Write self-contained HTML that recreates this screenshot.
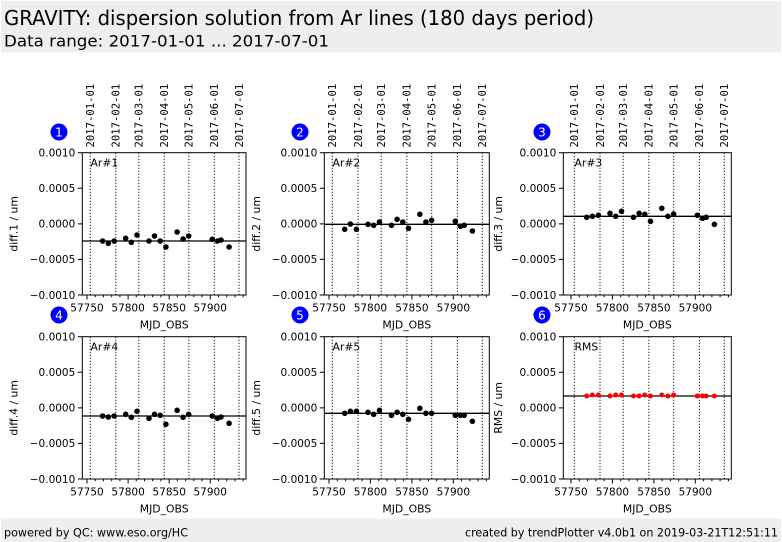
<!DOCTYPE html>
<html><head><meta charset="utf-8"><style>
html,body{margin:0;padding:0;background:#fff;}
svg{display:block;}
text{font-family:"DejaVu Sans","Liberation Sans",sans-serif;fill:#000;}
.mono{font-family:"DejaVu Sans Mono","Liberation Mono",monospace;}
.tk{font-size:10.5px;}
.lb{font-size:10.8px;}
</style></head><body>
<svg width="782" height="542" viewBox="0 0 782 542" xmlns="http://www.w3.org/2000/svg">
<rect x="0" y="0" width="782" height="542" fill="#fff"/>
<!-- header -->
<rect x="1" y="1" width="780" height="51.5" fill="#eeeeee"/>
<text x="4" y="25" font-size="20" textLength="590" lengthAdjust="spacingAndGlyphs">GRAVITY: dispersion solution from Ar lines (180 days period)</text>
<text x="4" y="46.5" font-size="16" textLength="325" lengthAdjust="spacingAndGlyphs">Data range: 2017-01-01 ... 2017-07-01</text>
<!-- footer -->
<rect x="1" y="518.5" width="780" height="23.5" fill="#eeeeee"/>
<text x="4" y="536.5" font-size="11.5" textLength="184" lengthAdjust="spacingAndGlyphs">powered by QC: www.eso.org/HC</text>
<text x="465" y="536.5" font-size="11.5" textLength="313" lengthAdjust="spacingAndGlyphs">created by trendPlotter v4.0b1 on 2019-03-21T12:51:11</text>

<!-- circled numbers -->
<g>
<circle cx="59" cy="132" r="8.5" fill="#0000ff"/><text x="59" y="136.3" font-size="12" text-anchor="middle" style="fill:#fff">1</text>
<circle cx="300" cy="132" r="8.5" fill="#0000ff"/><text x="300" y="136.3" font-size="12" text-anchor="middle" style="fill:#fff">2</text>
<circle cx="542" cy="132" r="8.5" fill="#0000ff"/><text x="542" y="136.3" font-size="12" text-anchor="middle" style="fill:#fff">3</text>
<circle cx="59" cy="315" r="8.5" fill="#0000ff"/><text x="59" y="319.3" font-size="12" text-anchor="middle" style="fill:#fff">4</text>
<circle cx="300" cy="315" r="8.5" fill="#0000ff"/><text x="300" y="319.3" font-size="12" text-anchor="middle" style="fill:#fff">5</text>
<circle cx="542" cy="315" r="8.5" fill="#0000ff"/><text x="542" y="319.3" font-size="12" text-anchor="middle" style="fill:#fff">6</text>
</g>

<!-- date labels (rotated) -->
<g class="mono" font-size="10.6">
<text class="mono" transform="translate(94.1,147.5) rotate(-90)">2017-01-01</text>
<text class="mono" transform="translate(119.6,147.5) rotate(-90)">2017-02-01</text>
<text class="mono" transform="translate(142.6,147.5) rotate(-90)">2017-03-01</text>
<text class="mono" transform="translate(168.0,147.5) rotate(-90)">2017-04-01</text>
<text class="mono" transform="translate(192.7,147.5) rotate(-90)">2017-05-01</text>
<text class="mono" transform="translate(218.1,147.5) rotate(-90)">2017-06-01</text>
<text class="mono" transform="translate(242.8,147.5) rotate(-90)">2017-07-01</text>

<text class="mono" transform="translate(336.1,147.5) rotate(-90)">2017-01-01</text>
<text class="mono" transform="translate(361.8,147.5) rotate(-90)">2017-02-01</text>
<text class="mono" transform="translate(385.0,147.5) rotate(-90)">2017-03-01</text>
<text class="mono" transform="translate(410.7,147.5) rotate(-90)">2017-04-01</text>
<text class="mono" transform="translate(435.5,147.5) rotate(-90)">2017-05-01</text>
<text class="mono" transform="translate(461.2,147.5) rotate(-90)">2017-06-01</text>
<text class="mono" transform="translate(486.1,147.5) rotate(-90)">2017-07-01</text>

<text class="mono" transform="translate(578.1,147.5) rotate(-90)">2017-01-01</text>
<text class="mono" transform="translate(603.8,147.5) rotate(-90)">2017-02-01</text>
<text class="mono" transform="translate(627.0,147.5) rotate(-90)">2017-03-01</text>
<text class="mono" transform="translate(652.7,147.5) rotate(-90)">2017-04-01</text>
<text class="mono" transform="translate(677.5,147.5) rotate(-90)">2017-05-01</text>
<text class="mono" transform="translate(703.2,147.5) rotate(-90)">2017-06-01</text>
<text class="mono" transform="translate(728.1,147.5) rotate(-90)">2017-07-01</text>
</g>

<!-- ===== dotted month lines ===== -->
<g stroke="#000" stroke-width="1" stroke-dasharray="1.2,1.8" fill="none">
<path d="M90.3 152.7V295M115.8 152.7V295M138.8 152.7V295M164.2 152.7V295M188.9 152.7V295M214.3 152.7V295M239 152.7V295"/>
<path d="M332.3 152.7V295M358 152.7V295M381.2 152.7V295M406.9 152.7V295M431.7 152.7V295M457.4 152.7V295M482.3 152.7V295"/>
<path d="M574.3 152.7V295M600 152.7V295M623.2 152.7V295M648.9 152.7V295M673.7 152.7V295M699.4 152.7V295M724.3 152.7V295"/>
<path d="M90.3 336.7V479M115.8 336.7V479M138.8 336.7V479M164.2 336.7V479M188.9 336.7V479M214.3 336.7V479M239 336.7V479"/>
<path d="M332.3 336.7V479M358 336.7V479M381.2 336.7V479M406.9 336.7V479M431.7 336.7V479M457.4 336.7V479M482.3 336.7V479"/>
<path d="M574.3 336.7V479M600 336.7V479M623.2 336.7V479M648.9 336.7V479M673.7 336.7V479M699.4 336.7V479M724.3 336.7V479"/>
</g>

<!-- ===== horizontal mean lines ===== -->
<g stroke="#000" stroke-width="1.3">
<line x1="82.3" x2="246" y1="241" y2="241"/>
<line x1="324.3" x2="489.3" y1="224.3" y2="224.3"/>
<line x1="563.3" x2="731.3" y1="216.3" y2="216.3"/>
<line x1="82.3" x2="246" y1="416" y2="416"/>
<line x1="324.3" x2="489.3" y1="413.3" y2="413.3"/>
<line x1="563.3" x2="731.3" y1="396" y2="396"/>
</g>

<!-- ===== data points ===== -->
<g fill="#000">
<!-- P1 -->
<circle cx="102.6" cy="241" r="2.8"/><circle cx="108.3" cy="243.3" r="2.8"/><circle cx="114.2" cy="241" r="2.8"/><circle cx="125.7" cy="238.3" r="2.8"/><circle cx="131.3" cy="242.3" r="2.8"/><circle cx="137" cy="235" r="2.8"/><circle cx="149" cy="241" r="2.8"/><circle cx="154.5" cy="236" r="2.8"/><circle cx="160.2" cy="241" r="2.8"/><circle cx="165.9" cy="247" r="2.8"/><circle cx="177.1" cy="232" r="2.8"/><circle cx="183.1" cy="239" r="2.8"/><circle cx="188.7" cy="236" r="2.8"/><circle cx="212.2" cy="239.3" r="2.8"/><circle cx="217.4" cy="241" r="2.8"/><circle cx="221" cy="240" r="2.8"/><circle cx="229.1" cy="247" r="2.8"/>
<!-- P2 -->
<circle cx="344.7" cy="229.3" r="2.8"/><circle cx="350.4" cy="224" r="2.8"/><circle cx="356.4" cy="229.3" r="2.8"/><circle cx="368" cy="224.3" r="2.8"/><circle cx="373.7" cy="225.3" r="2.8"/><circle cx="379.5" cy="222" r="2.8"/><circle cx="391.5" cy="225.3" r="2.8"/><circle cx="397.1" cy="219.3" r="2.8"/><circle cx="402.8" cy="222" r="2.8"/><circle cx="408.5" cy="228.3" r="2.8"/><circle cx="419.8" cy="214.3" r="2.8"/><circle cx="425.9" cy="222" r="2.8"/><circle cx="431.6" cy="220.3" r="2.8"/><circle cx="455.3" cy="221.3" r="2.8"/><circle cx="460.5" cy="226.3" r="2.8"/><circle cx="464.2" cy="225.3" r="2.8"/><circle cx="472.4" cy="231" r="2.8"/>
<!-- P3 -->
<circle cx="586.7" cy="217.3" r="2.8"/><circle cx="592.4" cy="216.3" r="2.8"/><circle cx="598.4" cy="215.3" r="2.8"/><circle cx="610" cy="213.3" r="2.8"/><circle cx="615.7" cy="216.3" r="2.8"/><circle cx="621.5" cy="211.3" r="2.8"/><circle cx="633.5" cy="217.3" r="2.8"/><circle cx="639.1" cy="213.3" r="2.8"/><circle cx="644.8" cy="214.3" r="2.8"/><circle cx="650.5" cy="221.3" r="2.8"/><circle cx="661.8" cy="208.3" r="2.8"/><circle cx="667.9" cy="216.3" r="2.8"/><circle cx="673.6" cy="214" r="2.8"/><circle cx="697.3" cy="215.3" r="2.8"/><circle cx="702.5" cy="218.3" r="2.8"/><circle cx="706.2" cy="217.3" r="2.8"/><circle cx="714.4" cy="224.3" r="2.8"/>
<!-- P4 -->
<circle cx="102.6" cy="416" r="2.8"/><circle cx="108.3" cy="417" r="2.8"/><circle cx="114.2" cy="416" r="2.8"/><circle cx="125.7" cy="414.3" r="2.8"/><circle cx="131.3" cy="417.3" r="2.8"/><circle cx="137" cy="411.3" r="2.8"/><circle cx="149" cy="418.3" r="2.8"/><circle cx="154.5" cy="414.3" r="2.8"/><circle cx="160.2" cy="415.3" r="2.8"/><circle cx="165.9" cy="424.3" r="2.8"/><circle cx="177.1" cy="410.3" r="2.8"/><circle cx="183.1" cy="417.3" r="2.8"/><circle cx="188.7" cy="414.3" r="2.8"/><circle cx="212.2" cy="416" r="2.8"/><circle cx="217.4" cy="418.3" r="2.8"/><circle cx="221" cy="417" r="2.8"/><circle cx="229.1" cy="423.3" r="2.8"/>
<!-- P5 -->
<circle cx="344.7" cy="413.3" r="2.8"/><circle cx="350.4" cy="411.3" r="2.8"/><circle cx="356.4" cy="411.3" r="2.8"/><circle cx="368" cy="412.3" r="2.8"/><circle cx="373.7" cy="414.3" r="2.8"/><circle cx="379.5" cy="410.3" r="2.8"/><circle cx="391.5" cy="415.3" r="2.8"/><circle cx="397.1" cy="412.3" r="2.8"/><circle cx="402.8" cy="414.3" r="2.8"/><circle cx="408.5" cy="419.3" r="2.8"/><circle cx="419.8" cy="408.3" r="2.8"/><circle cx="425.9" cy="413.3" r="2.8"/><circle cx="431.6" cy="413.3" r="2.8"/><circle cx="455.3" cy="415.3" r="2.8"/><circle cx="460.5" cy="415.3" r="2.8"/><circle cx="464.2" cy="415.3" r="2.8"/><circle cx="472.4" cy="421.3" r="2.8"/>
</g>
<g fill="#ff0000">
<!-- P6 -->
<circle cx="586.7" cy="396" r="2.5"/><circle cx="592.4" cy="395" r="2.5"/><circle cx="598.4" cy="395" r="2.5"/><circle cx="610" cy="396" r="2.5"/><circle cx="615.7" cy="395" r="2.5"/><circle cx="621.5" cy="395" r="2.5"/><circle cx="633.5" cy="396" r="2.5"/><circle cx="639.1" cy="396" r="2.5"/><circle cx="644.8" cy="395" r="2.5"/><circle cx="650.5" cy="396" r="2.5"/><circle cx="661.8" cy="395" r="2.5"/><circle cx="667.9" cy="396" r="2.5"/><circle cx="673.6" cy="395" r="2.5"/><circle cx="697.3" cy="396" r="2.5"/><circle cx="702.5" cy="396" r="2.5"/><circle cx="706.2" cy="396" r="2.5"/><circle cx="714.4" cy="396" r="2.5"/>
</g>

<!-- ===== axes frames ===== -->
<g fill="none" stroke="#000" stroke-width="1">
<rect x="82.3" y="152.7" width="163.7" height="142.3"/>
<rect x="324.3" y="152.7" width="165" height="142.3"/>
<rect x="563.3" y="152.7" width="168" height="142.3"/>
<rect x="82.3" y="336.7" width="163.7" height="142.3"/>
<rect x="324.3" y="336.7" width="165" height="142.3"/>
<rect x="563.3" y="336.7" width="168" height="142.3"/>
</g>

<!-- ===== y ticks ===== -->
<g stroke="#000" stroke-width="1">
<path d="M77.8 152.7H82.3M77.8 188.3H82.3M77.8 223.85H82.3M77.8 259.4H82.3M77.8 295H82.3"/>
<path d="M319.8 152.7H324.3M319.8 188.3H324.3M319.8 223.85H324.3M319.8 259.4H324.3M319.8 295H324.3"/>
<path d="M558.8 152.7H563.3M558.8 188.3H563.3M558.8 223.85H563.3M558.8 259.4H563.3M558.8 295H563.3"/>
<path d="M77.8 336.7H82.3M77.8 372.3H82.3M77.8 407.85H82.3M77.8 443.4H82.3M77.8 479H82.3"/>
<path d="M319.8 336.7H324.3M319.8 372.3H324.3M319.8 407.85H324.3M319.8 443.4H324.3M319.8 479H324.3"/>
<path d="M558.8 336.7H563.3M558.8 372.3H563.3M558.8 407.85H563.3M558.8 443.4H563.3M558.8 479H563.3"/>
</g>

<!-- ===== x ticks ===== -->
<g stroke="#000" stroke-width="1">
<!-- major top -->
<path d="M87 295V299.5M128.1 295V299.5M169.2 295V299.5M210.2 295V299.5"/>
<path d="M329 295V299.5M370.4 295V299.5M411.9 295V299.5M453.3 295V299.5"/>
<path d="M571 295V299.5M612.4 295V299.5M653.9 295V299.5M695.3 295V299.5"/>
<!-- major bottom -->
<path d="M87 479V483.5M128.1 479V483.5M169.2 479V483.5M210.2 479V483.5"/>
<path d="M329 479V483.5M370.4 479V483.5M411.9 479V483.5M453.3 479V483.5"/>
<path d="M571 479V483.5M612.4 479V483.5M653.9 479V483.5M695.3 479V483.5"/>
<!-- minor top -->
<path d="M95.2 295v2.3M103.4 295v2.3M111.7 295v2.3M119.9 295v2.3M136.3 295v2.3M144.5 295v2.3M152.7 295v2.3M160.9 295v2.3M177.4 295v2.3M185.6 295v2.3M193.8 295v2.3M202 295v2.3M218.5 295v2.3M226.7 295v2.3M234.9 295v2.3M243.1 295v2.3"/>
<path d="M337.3 295v2.3M345.6 295v2.3M353.8 295v2.3M362.1 295v2.3M378.7 295v2.3M387 295v2.3M395.3 295v2.3M403.6 295v2.3M420.1 295v2.3M428.4 295v2.3M436.7 295v2.3M445 295v2.3M461.6 295v2.3M469.9 295v2.3M478.1 295v2.3M486.4 295v2.3"/>
<path d="M579.3 295v2.3M587.6 295v2.3M595.8 295v2.3M604.1 295v2.3M620.7 295v2.3M629 295v2.3M637.3 295v2.3M645.6 295v2.3M662.1 295v2.3M670.4 295v2.3M678.7 295v2.3M687 295v2.3M703.6 295v2.3M711.9 295v2.3M720.1 295v2.3M728.4 295v2.3"/>
<!-- minor bottom -->
<path d="M95.2 479v2.3M103.4 479v2.3M111.7 479v2.3M119.9 479v2.3M136.3 479v2.3M144.5 479v2.3M152.7 479v2.3M160.9 479v2.3M177.4 479v2.3M185.6 479v2.3M193.8 479v2.3M202 479v2.3M218.5 479v2.3M226.7 479v2.3M234.9 479v2.3M243.1 479v2.3"/>
<path d="M337.3 479v2.3M345.6 479v2.3M353.8 479v2.3M362.1 479v2.3M378.7 479v2.3M387 479v2.3M395.3 479v2.3M403.6 479v2.3M420.1 479v2.3M428.4 479v2.3M436.7 479v2.3M445 479v2.3M461.6 479v2.3M469.9 479v2.3M478.1 479v2.3M486.4 479v2.3"/>
<path d="M579.3 479v2.3M587.6 479v2.3M595.8 479v2.3M604.1 479v2.3M620.7 479v2.3M629 479v2.3M637.3 479v2.3M645.6 479v2.3M662.1 479v2.3M670.4 479v2.3M678.7 479v2.3M687 479v2.3M703.6 479v2.3M711.9 479v2.3M720.1 479v2.3M728.4 479v2.3"/>
</g>

<!-- ===== y tick labels ===== -->
<g class="tk" font-size="10.5" text-anchor="end">
<text x="75.3" y="156.5" text-anchor="end" font-size="10.5">0.0010</text>
<text x="75.3" y="192.1" text-anchor="end" font-size="10.5">0.0005</text>
<text x="75.3" y="227.7" text-anchor="end" font-size="10.5">0.0000</text>
<text x="75.3" y="263.2" text-anchor="end" font-size="10.5">−0.0005</text>
<text x="75.3" y="298.8" text-anchor="end" font-size="10.5">−0.0010</text>

<text x="317.3" y="156.5" text-anchor="end" font-size="10.5">0.0010</text>
<text x="317.3" y="192.1" text-anchor="end" font-size="10.5">0.0005</text>
<text x="317.3" y="227.7" text-anchor="end" font-size="10.5">0.0000</text>
<text x="317.3" y="263.2" text-anchor="end" font-size="10.5">−0.0005</text>
<text x="317.3" y="298.8" text-anchor="end" font-size="10.5">−0.0010</text>

<text x="556.3" y="156.5" text-anchor="end" font-size="10.5">0.0010</text>
<text x="556.3" y="192.1" text-anchor="end" font-size="10.5">0.0005</text>
<text x="556.3" y="227.7" text-anchor="end" font-size="10.5">0.0000</text>
<text x="556.3" y="263.2" text-anchor="end" font-size="10.5">−0.0005</text>
<text x="556.3" y="298.8" text-anchor="end" font-size="10.5">−0.0010</text>

<text x="75.3" y="340.5" text-anchor="end" font-size="10.5">0.0010</text>
<text x="75.3" y="376.1" text-anchor="end" font-size="10.5">0.0005</text>
<text x="75.3" y="411.7" text-anchor="end" font-size="10.5">0.0000</text>
<text x="75.3" y="447.2" text-anchor="end" font-size="10.5">−0.0005</text>
<text x="75.3" y="482.8" text-anchor="end" font-size="10.5">−0.0010</text>

<text x="317.3" y="340.5" text-anchor="end" font-size="10.5">0.0010</text>
<text x="317.3" y="376.1" text-anchor="end" font-size="10.5">0.0005</text>
<text x="317.3" y="411.7" text-anchor="end" font-size="10.5">0.0000</text>
<text x="317.3" y="447.2" text-anchor="end" font-size="10.5">−0.0005</text>
<text x="317.3" y="482.8" text-anchor="end" font-size="10.5">−0.0010</text>

<text x="556.3" y="340.5" text-anchor="end" font-size="10.5">0.0010</text>
<text x="556.3" y="376.1" text-anchor="end" font-size="10.5">0.0005</text>
<text x="556.3" y="411.7" text-anchor="end" font-size="10.5">0.0000</text>
<text x="556.3" y="447.2" text-anchor="end" font-size="10.5">−0.0005</text>
<text x="556.3" y="482.8" text-anchor="end" font-size="10.5">−0.0010</text>
</g>

<!-- ===== x tick labels ===== -->
<g font-size="10.5" text-anchor="middle">
<text x="87" y="311.4" font-size="10.5" text-anchor="middle">57750</text>
<text x="128.1" y="311.4" font-size="10.5" text-anchor="middle">57800</text>
<text x="169.2" y="311.4" font-size="10.5" text-anchor="middle">57850</text>
<text x="210.2" y="311.4" font-size="10.5" text-anchor="middle">57900</text>
<text x="329" y="311.4" font-size="10.5" text-anchor="middle">57750</text>
<text x="370.4" y="311.4" font-size="10.5" text-anchor="middle">57800</text>
<text x="411.9" y="311.4" font-size="10.5" text-anchor="middle">57850</text>
<text x="453.3" y="311.4" font-size="10.5" text-anchor="middle">57900</text>
<text x="571" y="311.4" font-size="10.5" text-anchor="middle">57750</text>
<text x="612.4" y="311.4" font-size="10.5" text-anchor="middle">57800</text>
<text x="653.9" y="311.4" font-size="10.5" text-anchor="middle">57850</text>
<text x="695.3" y="311.4" font-size="10.5" text-anchor="middle">57900</text>

<text x="87" y="495.4" font-size="10.5" text-anchor="middle">57750</text>
<text x="128.1" y="495.4" font-size="10.5" text-anchor="middle">57800</text>
<text x="169.2" y="495.4" font-size="10.5" text-anchor="middle">57850</text>
<text x="210.2" y="495.4" font-size="10.5" text-anchor="middle">57900</text>
<text x="329" y="495.4" font-size="10.5" text-anchor="middle">57750</text>
<text x="370.4" y="495.4" font-size="10.5" text-anchor="middle">57800</text>
<text x="411.9" y="495.4" font-size="10.5" text-anchor="middle">57850</text>
<text x="453.3" y="495.4" font-size="10.5" text-anchor="middle">57900</text>
<text x="571" y="495.4" font-size="10.5" text-anchor="middle">57750</text>
<text x="612.4" y="495.4" font-size="10.5" text-anchor="middle">57800</text>
<text x="653.9" y="495.4" font-size="10.5" text-anchor="middle">57850</text>
<text x="695.3" y="495.4" font-size="10.5" text-anchor="middle">57900</text>
</g>

<!-- ===== x axis titles ===== -->
<text x="164.2" y="328.3" font-size="10.8" text-anchor="middle">MJD_OBS</text>
<text x="406.8" y="328.3" font-size="10.8" text-anchor="middle">MJD_OBS</text>
<text x="647.3" y="328.3" font-size="10.8" text-anchor="middle">MJD_OBS</text>
<text x="164.2" y="512.3" font-size="10.8" text-anchor="middle">MJD_OBS</text>
<text x="406.8" y="512.3" font-size="10.8" text-anchor="middle">MJD_OBS</text>
<text x="647.3" y="512.3" font-size="10.8" text-anchor="middle">MJD_OBS</text>

<!-- ===== y axis titles ===== -->
<text transform="translate(17.6,223.85) rotate(-90)" font-size="10.8" text-anchor="middle">diff.1 / um</text>
<text transform="translate(260,223.85) rotate(-90)" font-size="10.8" text-anchor="middle">diff.2 / um</text>
<text transform="translate(502,223.85) rotate(-90)" font-size="10.8" text-anchor="middle">diff.3 / um</text>
<text transform="translate(17.6,407.85) rotate(-90)" font-size="10.8" text-anchor="middle">diff.4 / um</text>
<text transform="translate(260,407.85) rotate(-90)" font-size="10.8" text-anchor="middle">diff.5 / um</text>
<text transform="translate(502,407.85) rotate(-90)" font-size="10.8" text-anchor="middle">RMS / um</text>

<!-- ===== in-panel labels ===== -->
<text x="90.5" y="166.5" font-size="10.8">Ar#1</text>
<text x="332.5" y="166.5" font-size="10.8">Ar#2</text>
<text x="574.5" y="166.5" font-size="10.8">Ar#3</text>
<text x="90.5" y="350.3" font-size="10.8">Ar#4</text>
<text x="332.5" y="350.3" font-size="10.8">Ar#5</text>
<text x="574.5" y="350.3" font-size="10.8">RMS</text>
</svg>
</body></html>
